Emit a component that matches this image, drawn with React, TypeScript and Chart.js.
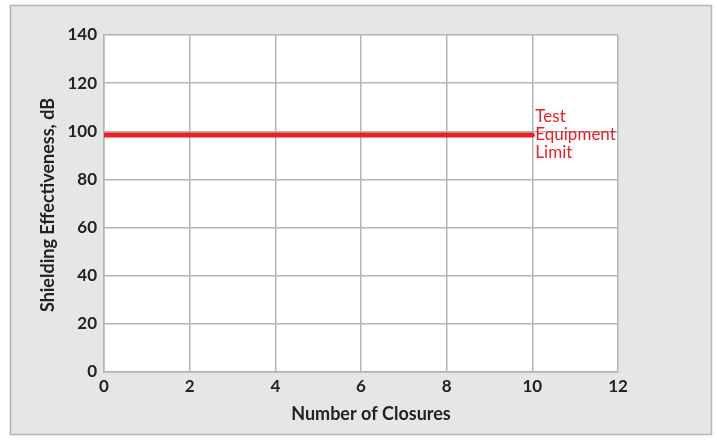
import React, { useEffect, useRef } from "react";
import { Chart, registerables } from "chart.js";

Chart.register(...registerables);

const xTicks = [0, 2, 4, 6, 8, 10, 12];
const yTicks = [0, 20, 40, 60, 80, 100, 120, 140];
const limitX = [0, 10];
const limitY = [98.5, 98.5];
const limitLabel = ["Test", "Equipment", "Limit"];
const xTitle = "Number of Closures";
const yTitle = "Shielding Effectiveness, dB";

const FONT = "Lato, 'Noto Sans', sans-serif";
const RED = "#e8202a";
const INK = "#222";

const bgPlugin = {
  id: "bgbox",
  beforeDraw(chart: any) {
    const { ctx, chartArea } = chart;
    ctx.save();
    ctx.fillStyle = "#e5e6e8";
    ctx.fillRect(10, 5, 702, 430);
    ctx.strokeStyle = "#b4b4b4";
    ctx.lineWidth = 1.5;
    ctx.strokeRect(10.5, 5.5, 701, 429);
    ctx.fillStyle = "#ffffff";
    ctx.fillRect(chartArea.left, chartArea.top, chartArea.right - chartArea.left, chartArea.bottom - chartArea.top);
    ctx.restore();
  },
};

const textPlugin = {
  id: "texts",
  afterDatasetsDraw(chart: any) {
    const { ctx, scales } = chart;
    const x = scales.x.getPixelForValue(limitX[1]) + 3;
    const yc = scales.y.getPixelForValue(limitY[1]);
    ctx.save();
    ctx.fillStyle = RED;
    ctx.font = `17px ${FONT}`;
    ctx.textAlign = "left";
    ctx.textBaseline = "middle";
    limitLabel.forEach((t, i) => {
      ctx.fillText(t, x, yc + (i - 1) * 18);
    });
    ctx.fillStyle = INK;
    ctx.font = `bold 18px ${FONT}`;
    ctx.textAlign = "center";
    ctx.fillText(xTitle, 371, 414);
    ctx.translate(48, 205);
    ctx.rotate(-Math.PI / 2);
    ctx.fillText(yTitle, 0, 0);
    ctx.restore();
  },
};

export default function App() {
  const ref = useRef<HTMLCanvasElement>(null);
  useEffect(() => {
    if (!ref.current) return;
    const chart = new Chart(ref.current, {
      type: "scatter",
      data: {
        datasets: [
          {
            data: limitX.map((x, i) => ({ x, y: limitY[i] })),
            showLine: true,
            borderColor: RED,
            backgroundColor: RED,
            borderWidth: 5,
            pointRadius: 0,
            borderCapStyle: "round",
          },
        ],
      },
      options: {
        responsive: false,
        animation: false,
        layout: { padding: { top: 35, right: 99, left: 0, bottom: 0 } },
        plugins: { legend: { display: false }, tooltip: { enabled: false } },
        scales: {
          x: {
            type: "linear",
            min: 0,
            max: 12,
            afterBuildTicks(scale: any) {
              scale.ticks = xTicks.map((v) => ({ value: v }));
            },
            afterFit(scale: any) {
              scale.height = 69;
            },
            grid: { color: "#b4b4b4", lineWidth: 1.5, drawTicks: false },
            border: { color: "#b4b4b4", width: 1.5 },
            ticks: {
              padding: 4,
              color: INK,
              font: { family: FONT, size: 17, weight: "bold" },
            },
          },
          y: {
            type: "linear",
            min: 0,
            max: 140,
            afterBuildTicks(scale: any) {
              scale.ticks = yTicks.map((v) => ({ value: v }));
            },
            afterFit(scale: any) {
              scale.width = 104;
            },
            grid: { color: "#b4b4b4", lineWidth: 1.5, drawTicks: false },
            border: { color: "#b4b4b4", width: 1.5 },
            ticks: {
              padding: 7,
              color: INK,
              font: { family: FONT, size: 17, weight: "bold" },
            },
          },
        },
      },
      plugins: [bgPlugin, textPlugin],
    } as any);
    return () => chart.destroy();
  }, []);
  return (
    <div style={{ position: "absolute", left: 0, top: 0, width: 717, height: 441 }}>
      <canvas ref={ref} width={717} height={441} style={{ width: 717, height: 441 }} />
    </div>
  );
}
